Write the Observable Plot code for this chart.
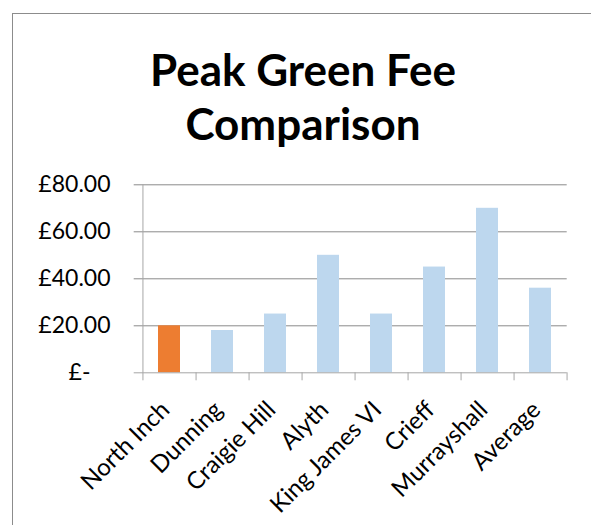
<!DOCTYPE html>
<html><head><meta charset="utf-8">
<script src="https://cdn.jsdelivr.net/npm/d3@7"></script>
<script src="https://cdn.jsdelivr.net/npm/@observablehq/plot@0.6"></script>
<style>
body{margin:0;background:#fff;}
#wrap{position:relative;width:591px;height:525px;overflow:hidden;}
#chart{position:absolute;left:0;top:0;}
#border{position:absolute;left:12px;top:13px;width:700px;height:700px;border-left:1px solid #8c8c8c;border-top:1px solid #8c8c8c;pointer-events:none;}
#title{position:absolute;left:0;top:42px;width:606px;text-align:center;font-family:Lato;font-weight:bold;font-size:44px;line-height:54px;color:#000;}
</style></head><body>
<div id="wrap"><div id="chart"></div><div id="border"></div><div id="title">Peak Green Fee<br>Comparison</div></div>
<script>
const courses = ["North Inch","Dunning","Craigie Hill","Alyth","King James VI","Crieff","Murrayshall","Average"];
const fees = [20,18,25,50,25,45,70,36];
const highlighted = ["North Inch"];
const yTicks = [0,20,40,60,80];
const yTickLabels = ["£-","£20.00","£40.00","£60.00","£80.00"];

const ORANGE = "#ED7D31", BLUE = "#BDD7EE", GRID = "#8A8A8A", AXIS = "#A6A6A6";
const W = 591, H = 525, mL = 141.7, mR = 24.3, mT = 184.3, mB = 152.7;
const step = (W - mL - mR) / courses.length;
const data = courses.map((c, i) => ({course: c, fee: fees[i], color: highlighted.includes(c) ? ORANGE : BLUE}));
const labelOf = new Map(yTicks.map((t, i) => [t, yTickLabels[i]]));

const chart = Plot.plot({
  width: W, height: H,
  marginLeft: mL, marginRight: mR, marginTop: mT, marginBottom: mB,
  style: {fontFamily: "Lato", fontSize: "23px", color: "#000", background: "transparent"},
  x: {domain: courses, paddingInner: 0.58, paddingOuter: 0.29, axis: null},
  y: {domain: [0, 80], axis: null},
  color: {type: "identity"},
  marks: [
    Plot.ruleY(yTicks.filter(t => t !== 0), {stroke: GRID, strokeWidth: 1, insetLeft: -8}),
    Plot.barY(data, {x: "course", y: "fee", fill: "color"}),
    Plot.ruleY([0], {stroke: AXIS, strokeWidth: 1, insetLeft: -8}),
    Plot.ruleX([courses[0]], {dx: -step / 2, y1: 80, y2: 0, stroke: AXIS, insetBottom: -8}),
    Plot.ruleX(courses, {dx: step / 2, y1: 0, y2: 0, stroke: AXIS, insetBottom: -8}),
    Plot.text(yTicks.filter(t => t !== 0), {y: d => d, text: d => labelOf.get(d), frameAnchor: "left", textAnchor: "end", dx: -31.7, fill: "#000", fontSize: 23}),
    Plot.text([0], {y: d => d, text: d => labelOf.get(d), frameAnchor: "left", textAnchor: "end", dx: -51.7, fill: "#000", fontSize: 23}),
    Plot.text(courses, {x: d => d, y: () => 0, text: d => d, rotate: -45, textAnchor: "end", lineAnchor: "middle", dx: -4, dy: 33, fill: "#000", fontSize: 24})
  ]
});
document.getElementById("chart").append(chart);
</script>
</body></html>
